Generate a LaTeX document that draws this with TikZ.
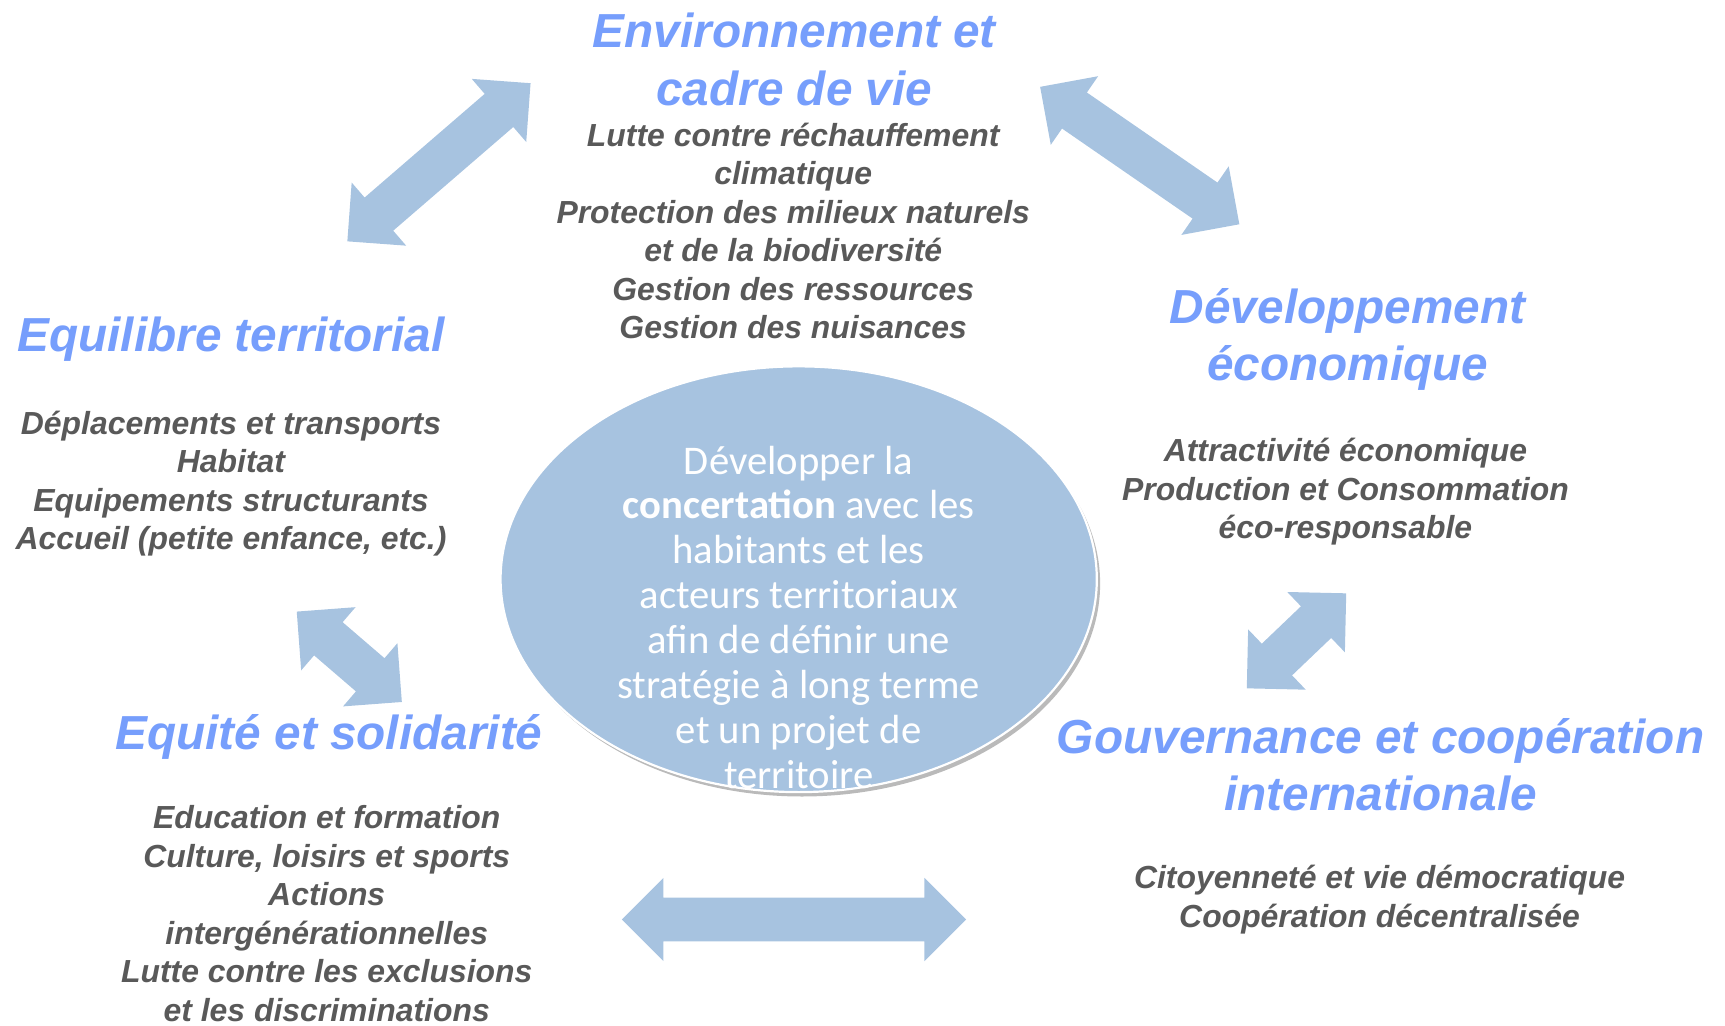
\documentclass[tikz,border=0pt]{standalone}
\usepackage{fontspec}
\setmainfont{Liberation Sans}
\newfontfamily\bubblefont{Carlito}
\usetikzlibrary{shapes.geometric,shapes.arrows,shadows}
\definecolor{themeblue}{RGB}{118,158,252}
\definecolor{itemgray}{RGB}{89,89,89}
\definecolor{paleblue}{RGB}{167,195,224}
\tikzset{
  theme/.style={text=themeblue, font=\fontsize{21.7}{26}\selectfont\bfseries\itshape, align=center, inner sep=0pt},
  items/.style={text=itemgray, font=\fontsize{14.5}{17.5}\selectfont\bfseries\itshape, align=center, inner sep=0pt},
  biarrow/.style={double arrow, fill=paleblue, inner sep=0pt, text height=19.5pt, text depth=0pt,
    minimum width=37.5pt, double arrow head extend=9pt}
}

\begin{document}
\begin{tikzpicture}[x=0.5pt,y=-0.5pt]
	\useasboundingbox (0,0) rectangle (1568,932);
	% centre
	\node (bubble) [ellipse, fill=paleblue, draw=white, line width=1pt, minimum width=271pt, minimum height=193.5pt,
		drop shadow={shadow xshift=1.5pt, shadow yshift=-2pt, fill=black!45, opacity=.6}] at (726,526.5) {};
	\node (bubbletext) [text=white, font=\bubblefont\fontsize{18.5}{20.4}\selectfont, align=center] at (726,561)
		{Développer la\\\textbf{concertation} avec les\\habitants et les\\acteurs territoriaux\\afin de définir une\\stratégie à long terme\\et un projet de\\territoire};
	% themes
	\node (envtitle) [theme] at (722,54) {Environnement et\\cadre de vie};
	\node (envitems) [items] at (721,210) {Lutte contre réchauffement\\climatique\\Protection des milieux naturels\\et de la biodiversité\\Gestion des ressources\\Gestion des nuisances};
	\node (eqtitle) [theme] at (210,308) {Equilibre territorial};
	\node (eqitems) [items] at (210,439.5) {Déplacements et transports\\Habitat\\Equipements structurants\\Accueil (petite enfance, etc.)};
	\node (devtitle) [theme] at (1225,308.5) {Développement\\économique};
	\node (devitems) [items] at (1223,447) {Attractivité économique\\Production et Consommation\\éco-responsable};
	\node (soltitle) [theme] at (299,670) {Equité et solidarité};
	\node (solitems) [items] at (297,830.5) {Education et formation\\Culture, loisirs et sports\\Actions\\intergénérationnelles\\Lutte contre les exclusions\\et les discriminations};
	\node (govtitle) [theme] at (1255,695) {Gouvernance et coopération\\internationale};
	\node (govitems) [items] at (1254,817.5) {Citoyenneté et vie démocratique\\Coopération décentralisée};
	% arrows
	\node (arrowNW) [biarrow, minimum height=110pt, rotate=40.8] at (399,147.5) {};
	\node (arrowNE) [biarrow, minimum height=110pt, rotate=-34.6] at (1036,141.4) {};
	\node (arrowW) [biarrow, minimum height=63pt, rotate=-40.7] at (317.5,597) {};
	\node (arrowE) [biarrow, minimum height=62.5pt, rotate=43.7] at (1178.5,582.5) {};
	\node (arrowS) [biarrow, minimum height=156.5pt] at (721.7,835.8) {};
\end{tikzpicture}
\end{document}
